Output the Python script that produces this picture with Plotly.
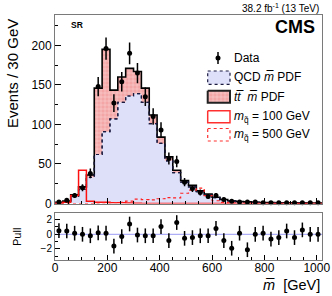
import plotly.graph_objects as go
import numpy as np

# ---------------- data ----------------
bin_edges = list(range(0, 1021, 30))          # 34 bins of 30 GeV
data_counts = [2, 4, 10, 20, 38, 148, 196, 127, 154, 190, 165, 135, 110, 93, 57, 53, 27,
               19, 14, 9, 10, 5, 3, 2, 2, 2, 1, 1, 1, 1, 1, 1, 1, 1]
qcd_pdf = [1.2, 2.5, 9, 18, 33, 62, 91, 107, 128, 136, 139, 128, 101, 76, 54, 39, 27,
           21, 15, 11, 7.5, 4.8, 3.3, 2.4, 1.9, 1.5, 1.2, 1.0, 0.9, 0.8, 0.7, 0.6, 0.5, 0.5]
ttbar_pdf = [0.3, 0.5, 2, 3, 3, 84, 104, 36.5, 32, 35, 28, 18, 11, 8, 5, 3, 2,
             2, 1, 1, 0.5, 0.2, 0.2, 0.1, 0.1, 0.1, 0.1, 0.1, 0.1, 0.1, 0.1, 0.1, 0.1, 0.1]
sig100 = [0.3, 1.5, 10, 42, 3, 1.5, 1.5, 1, 0.8, 0.5, 0.3, 0, 0, 0, 0, 0, 0,
          0, 0, 0, 0, 0, 0, 0, 0, 0, 0, 0, 0, 0, 0, 0, 0, 0]
sig500 = [0, 0, 0, 0, 0, 0.5, 0.8, 1, 1.5, 3, 5.5, 5, 4.5, 6, 7.5, 7, 13,
          17, 19.5, 10, 3.5, 1.5, 0.8, 0.4, 0.2, 0, 0, 0, 0, 0, 0, 0, 0, 0]
pulls = [0.5, 0.45, 0.15, 0.0, -0.2, 0.2, 0.15, -1.6, -0.3, 1.4, -0.1, -0.2, -0.2, 1.05,
         -0.85, 1.6, -0.55, -0.45, -0.2, -0.2, 0.8, -0.85, -1.9, 0.15, -2.1, 0.0, 0.15,
         -0.65, -0.45, 0.45, -0.45, 0.6, 0.0, 0.0]

y_ticks = [0, 50, 100, 150, 200]
x_ticks = [0, 200, 400, 600, 800, 1000]
pull_ticks = [-2, 0, 2]

# ---------------- derived ----------------
edges = np.array(bin_edges, dtype=float)
centers = 0.5 * (edges[:-1] + edges[1:])
qcd = np.array(qcd_pdf)
total = qcd + np.array(ttbar_pdf)


def step(vals):
    xs = [edges[0]] + list(edges)
    ys = [0.0] + list(vals) + [0.0]
    return xs, ys


W, H = 332, 296
L, R, T, B = 55, 10, 15, 36
PW, PH = W - L - R, H - T - B


def px(x):
    return (x - L) / PW


def py(y):
    return (H - B - y) / PH


main_dom = [py(203.5), 1.0]
pull_dom = [0.0, py(213)]

FONT = "Liberation Sans, Arial, sans-serif"
FRAME = "#7a7a7a"
LAV = "#dedff8"
PINK = "#f4a6a6"

fig = go.Figure()

xs, ys = step(qcd)
fig.add_trace(go.Scatter(x=xs, y=ys, mode="lines", line=dict(shape="hv", color="#1a1a40", width=1.2, dash="dot"),
                         fill="tozeroy", fillcolor=LAV, showlegend=False, hoverinfo="skip"))
xs, ys = step(total)
fig.add_trace(go.Scatter(x=xs, y=ys, mode="lines", line=dict(shape="hv", color="black", width=1.6),
                         fill="tonexty", fillcolor=PINK,
                         fillpattern=dict(shape="+", fgcolor="white", bgcolor=PINK, size=4, solidity=0.25),
                         showlegend=False, hoverinfo="skip"))
xs, ys = step(qcd)
fig.add_trace(go.Scatter(x=xs, y=ys, mode="lines", line=dict(shape="hv", color="#1a1a40", width=1.2, dash="dot"),
                         showlegend=False, hoverinfo="skip"))
xs, ys = step(sig100)
fig.add_trace(go.Scatter(x=xs, y=ys, mode="lines", line=dict(shape="hv", color="#ff1010", width=1.5),
                         showlegend=False, hoverinfo="skip", cliponaxis=False))
xs, ys = step(sig500)
fig.add_trace(go.Scatter(x=xs, y=ys, mode="lines", line=dict(shape="hv", color="#ff2020", width=1.2, dash="dot"),
                         showlegend=False, hoverinfo="skip", cliponaxis=False))
dc = np.array(data_counts, dtype=float)
fig.add_trace(go.Scatter(x=centers, y=dc, mode="markers", marker=dict(color="black", size=5),
                         error_y=dict(type="data", array=np.sqrt(dc), width=0, thickness=1.5, color="black"),
                         showlegend=False, hoverinfo="skip", cliponaxis=False))

fig.add_trace(go.Scatter(x=[0, 1020], y=[0, 0], mode="lines", line=dict(color="#9a9af5", width=1),
                         xaxis="x2", yaxis="y2", showlegend=False, hoverinfo="skip"))
fig.add_trace(go.Scatter(x=centers, y=pulls, mode="markers", marker=dict(color="black", size=5),
                         error_y=dict(type="constant", value=1.0, width=0, thickness=1.5, color="black"),
                         xaxis="x2", yaxis="y2", showlegend=False, hoverinfo="skip"))

# ---------------- legend (pixel-coordinate overlay axis) ----------------
lx0, lx1 = 207.7, 230
fig.add_trace(go.Scatter(x=[218], y=[58], mode="markers", marker=dict(color="black", size=5),
                         error_y=dict(type="constant", value=6, width=0, thickness=1.5, color="black"),
                         xaxis="x3", yaxis="y3", showlegend=False, hoverinfo="skip"))
fig.add_trace(go.Scatter(x=[lx0, lx1, lx1, lx0, lx0], y=[71, 71, 84.3, 84.3, 71], mode="lines", fill="toself",
                         fillcolor=LAV, line=dict(color="#1a1a40", width=1.2, dash="dot"),
                         xaxis="x3", yaxis="y3", showlegend=False, hoverinfo="skip"))
fig.add_trace(go.Scatter(x=[lx0, lx1, lx1, lx0, lx0], y=[90.7, 90.7, 102.7, 102.7, 90.7], mode="lines",
                         fill="toself", fillcolor=PINK,
                         fillpattern=dict(shape="+", fgcolor="white", bgcolor=PINK, size=4, solidity=0.25),
                         line=dict(color="#222", width=2),
                         xaxis="x3", yaxis="y3", showlegend=False, hoverinfo="skip"))
fig.add_trace(go.Scatter(x=[lx0, lx1, lx1, lx0, lx0], y=[110.7, 110.7, 122.7, 122.7, 110.7], mode="lines",
                         line=dict(color="#ff3030", width=1.5),
                         xaxis="x3", yaxis="y3", showlegend=False, hoverinfo="skip"))
fig.add_trace(go.Scatter(x=[lx0, lx1, lx1, lx0, lx0], y=[128.5, 128.5, 141, 141, 128.5], mode="lines",
                         line=dict(color="#ff3030", width=1.2, dash="dot"),
                         xaxis="x3", yaxis="y3", showlegend=False, hoverinfo="skip"))

leg_texts = [
    (58, "Data"),
    (77.5, "QCD <i>m\u0305</i> PDF"),
    (97, "<i>t</i><i>t\u0305</i>  <i>m\u0305</i> PDF"),
    (117, "<i>m</i><sub>q\u0303</sub> = 100 GeV"),
    (135, "<i>m</i><sub>q\u0303</sub> = 500 GeV"),
]
annotations = []
for yy, txt in leg_texts:
    annotations.append(dict(x=px(232), y=py(yy), xref="paper", yref="paper", text=txt, showarrow=False,
                            xanchor="left", yanchor="middle", font=dict(size=12, color="black", family=FONT)))

annotations += [
    dict(x=px(321), y=py(7.5), xref="paper", yref="paper", text="38.2 fb<sup>-1</sup> (13 TeV)",
         showarrow=False, xanchor="right", yanchor="middle", font=dict(size=10, color="black", family=FONT)),
    dict(x=px(317), y=py(27), xref="paper", yref="paper", text="<b>CMS</b>", showarrow=False,
         xanchor="right", yanchor="middle", font=dict(size=18, color="black", family=FONT)),
    dict(x=px(69), y=py(25), xref="paper", yref="paper", text="<b>SR</b>", showarrow=False,
         xanchor="left", yanchor="middle", font=dict(size=8.5, color="black", family=FONT)),
    dict(x=px(12), y=py(74), xref="paper", yref="paper", text="Events / 30 GeV", showarrow=False,
         textangle=-90, xanchor="center", yanchor="middle", font=dict(size=15, color="black", family=FONT)),
    dict(x=px(17), y=py(237), xref="paper", yref="paper", text="Pull", showarrow=False,
         textangle=-90, xanchor="center", yanchor="middle", font=dict(size=11, color="black", family=FONT)),
    dict(x=px(322), y=py(285), xref="paper", yref="paper", text="<i>m\u0305</i>  [GeV]", showarrow=False,
         xanchor="right", yanchor="middle", font=dict(size=14.5, color="black", family=FONT)),
]

axis_common = dict(showline=True, linecolor=FRAME, linewidth=1, mirror=True, showgrid=False, zeroline=False,
                   ticks="inside", tickcolor="black", tickwidth=1, automargin=False,
                   tickfont=dict(size=12, color="black", family=FONT))

fig.update_layout(
    width=W, height=H, margin=dict(l=L, r=R, t=T, b=B),
    paper_bgcolor="white", plot_bgcolor="white",
    font=dict(family=FONT, color="black"),
    annotations=annotations,
    xaxis=dict(domain=[0, 1], anchor="y", range=[0, 1020], tickvals=x_ticks, showticklabels=False,
               ticklen=6, minor=dict(dtick=50, ticklen=3, ticks="inside", tickcolor="black"), **axis_common),
    yaxis=dict(domain=main_dom, anchor="x", range=[0, 238.5], tickvals=y_ticks, ticklen=6,
               minor=dict(dtick=25, ticklen=3, ticks="inside", tickcolor="black"), **axis_common),
    xaxis2=dict(domain=[0, 1], anchor="y2", range=[0, 1020], tickvals=x_ticks, ticklen=5,
                ticklabelstandoff=-3,
                minor=dict(dtick=50, ticklen=3, ticks="inside", tickcolor="black"), **axis_common),
    yaxis2=dict(domain=pull_dom, anchor="x2", range=[-3.5, 2.9], tickvals=pull_ticks,
                ticktext=["\u22122", "0", "2"], ticklen=5,
                minor=dict(dtick=1, ticklen=3, ticks="inside", tickcolor="black"),
                **{k: v for k, v in axis_common.items() if k != "tickfont"},
                tickfont=dict(size=10, color="black", family=FONT)),
    xaxis3=dict(overlaying="x", anchor="y3", range=[L, W - R], visible=False),
    yaxis3=dict(overlaying="y", anchor="x3", range=[203.5, 15], visible=False),
)

fig.write_html("out.html", config={"displayModeBar": False},
               post_script="document.body.style.margin='0';document.body.style.padding='0';")
